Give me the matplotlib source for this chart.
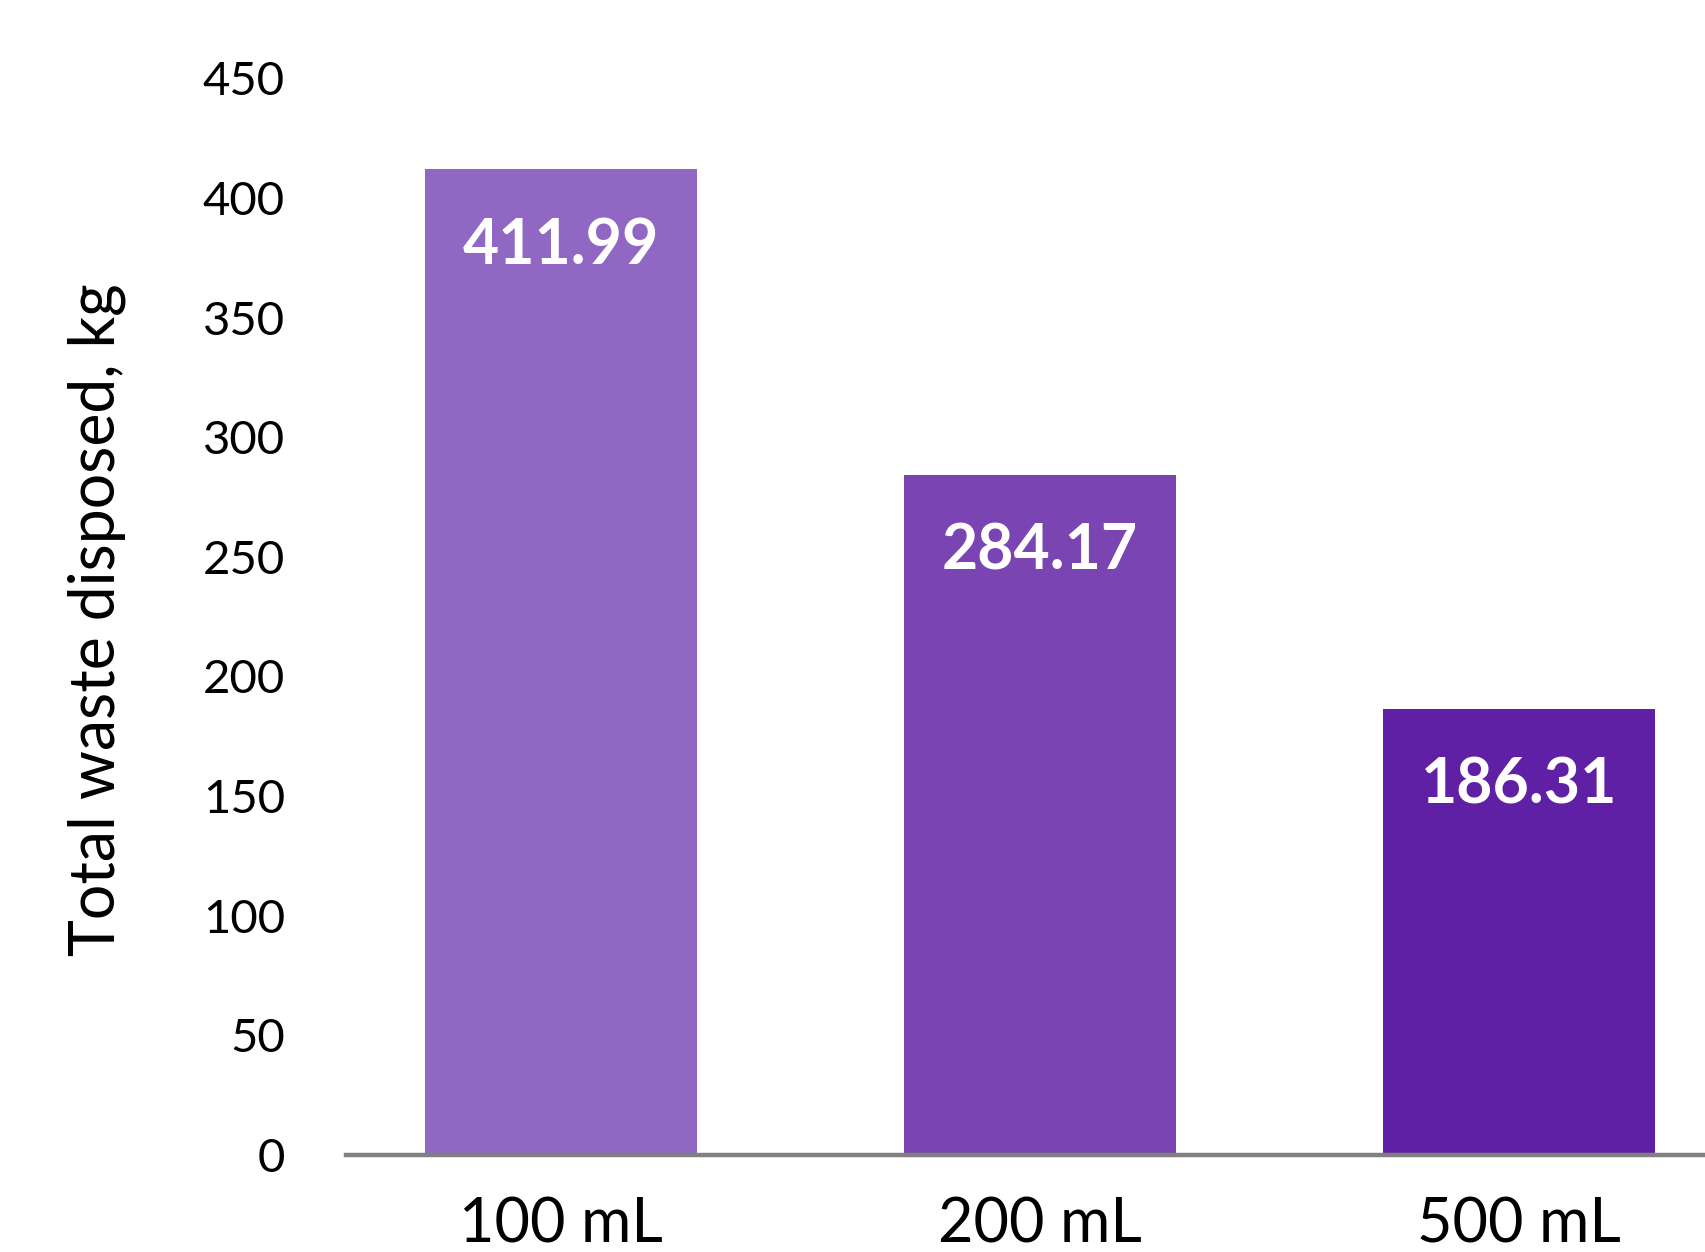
import numpy as np
import matplotlib
matplotlib.use('Agg')
from matplotlib import pyplot as plt

plt.rcParams['font.family'] = ['Lato', 'DejaVu Sans']

categories = ['100 mL', '200 mL', '500 mL']
waste_kg = [411.99, 284.17, 186.31]
bar_colors = ['#9167C4', '#7A44B2', '#6020A5']
y_ticks = np.arange(0, 451, 50)

fig = plt.figure(figsize=(17.06, 12.52), dpi=100)
ax = fig.add_axes([0.2028, 0.0775, 0.7972, 0.86])

x = np.arange(len(categories))
bars = ax.bar(x, waste_kg, width=0.568, color=bar_colors, zorder=2)

# value labels inside the bar tops
for xi, v in zip(x, waste_kg):
    ax.annotate(f'{v:.2f}', xy=(xi, v), xytext=(0, -55), textcoords='offset points',
                ha='center', va='center', color='white', fontsize=45, fontweight='bold')

ax.set_xlim(-0.448, 2.39)
ax.set_ylim(0, 450)
ax.set_yticks(y_ticks)
ax.set_xticks(x)
ax.set_xticklabels(categories, fontsize=44)
ax.tick_params(axis='y', labelsize=34, length=0, pad=44)
ax.tick_params(axis='x', length=0, pad=30)

for s in ['top', 'right', 'left']:
    ax.spines[s].set_visible(False)
ax.spines['bottom'].set_color('#808080')
ax.spines['bottom'].set_linewidth(3.2)
ax.spines['bottom'].set_zorder(3)

fig.text(0.057, 0.505, 'Total waste disposed, kg', rotation=90, ha='center', va='center',
         fontsize=45)

fig.savefig('out.png', dpi=100)
